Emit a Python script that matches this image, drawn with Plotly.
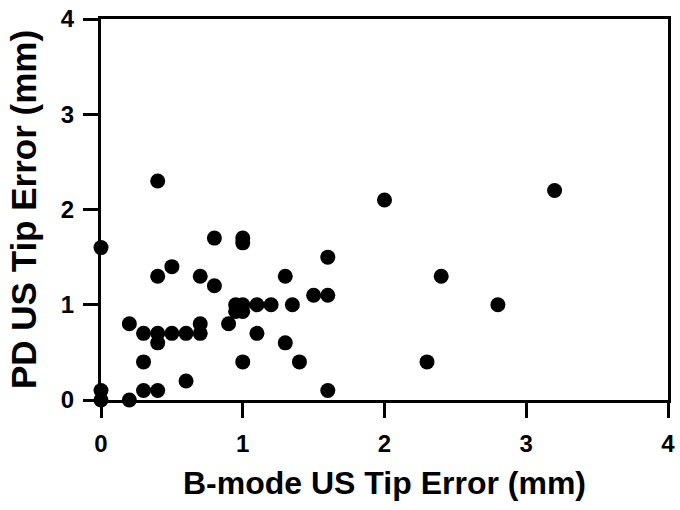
import plotly.graph_objects as go

bmode_err = [0.4, 0.0, 0.8, 1.0, 1.0, 0.5, 0.4, 0.7, 0.8, 1.3,
             0.95, 1.0, 0.95, 1.0, 1.1, 1.2, 1.35,
             0.2, 0.3, 0.4, 0.4, 0.5, 0.6, 0.7, 0.7, 0.9, 1.1, 1.3,
             0.3, 1.0, 0.6, 0.0, 0.3, 0.4, 0.0, 0.2,
             2.0, 1.6, 1.5, 1.6, 1.4, 1.6, 2.3, 3.2, 2.4, 2.8]
pd_err = [2.3, 1.6, 1.7, 1.7, 1.65, 1.4, 1.3, 1.3, 1.2, 1.3,
          1.0, 1.0, 0.93, 0.93, 1.0, 1.0, 1.0,
          0.8, 0.7, 0.7, 0.6, 0.7, 0.7, 0.8, 0.7, 0.8, 0.7, 0.6,
          0.4, 0.4, 0.2, 0.1, 0.1, 0.1, 0.0, 0.0,
          2.1, 1.5, 1.1, 1.1, 0.4, 0.1, 0.4, 2.2, 1.3, 1.0]
tick_vals = [0, 1, 2, 3, 4]

fig = go.Figure(go.Scatter(
    x=bmode_err, y=pd_err, mode="markers", cliponaxis=False,
    marker=dict(size=15, color="black", line=dict(width=0)),
))

FONT = "Liberation Sans, Arial"
axis_common = dict(
    range=[0, 4], tickvals=tick_vals, showgrid=False, zeroline=False,
    showline=True, linecolor="black", linewidth=3, mirror=True,
    ticks="outside", ticklen=15, tickwidth=3, tickcolor="black",
    tickfont=dict(family=FONT, size=24, color="black", weight="bold"),
)

fig.update_layout(
    width=680, height=510,
    margin=dict(l=101, r=5, t=17, b=110),
    paper_bgcolor="white", plot_bgcolor="white",
    showlegend=False,
    xaxis=dict(**axis_common, ticklabelstandoff=5, title=dict(
        text="B-mode US Tip Error (mm)", standoff=16,
        font=dict(family=FONT, size=32, color="black", weight="bold"))),
    yaxis=dict(**axis_common, ticklabelstandoff=4, title=dict(
        text="PD US Tip Error (mm)", standoff=14,
        font=dict(family=FONT, size=35, color="black", weight="bold"))),
)

fig.write_html("out.html")
